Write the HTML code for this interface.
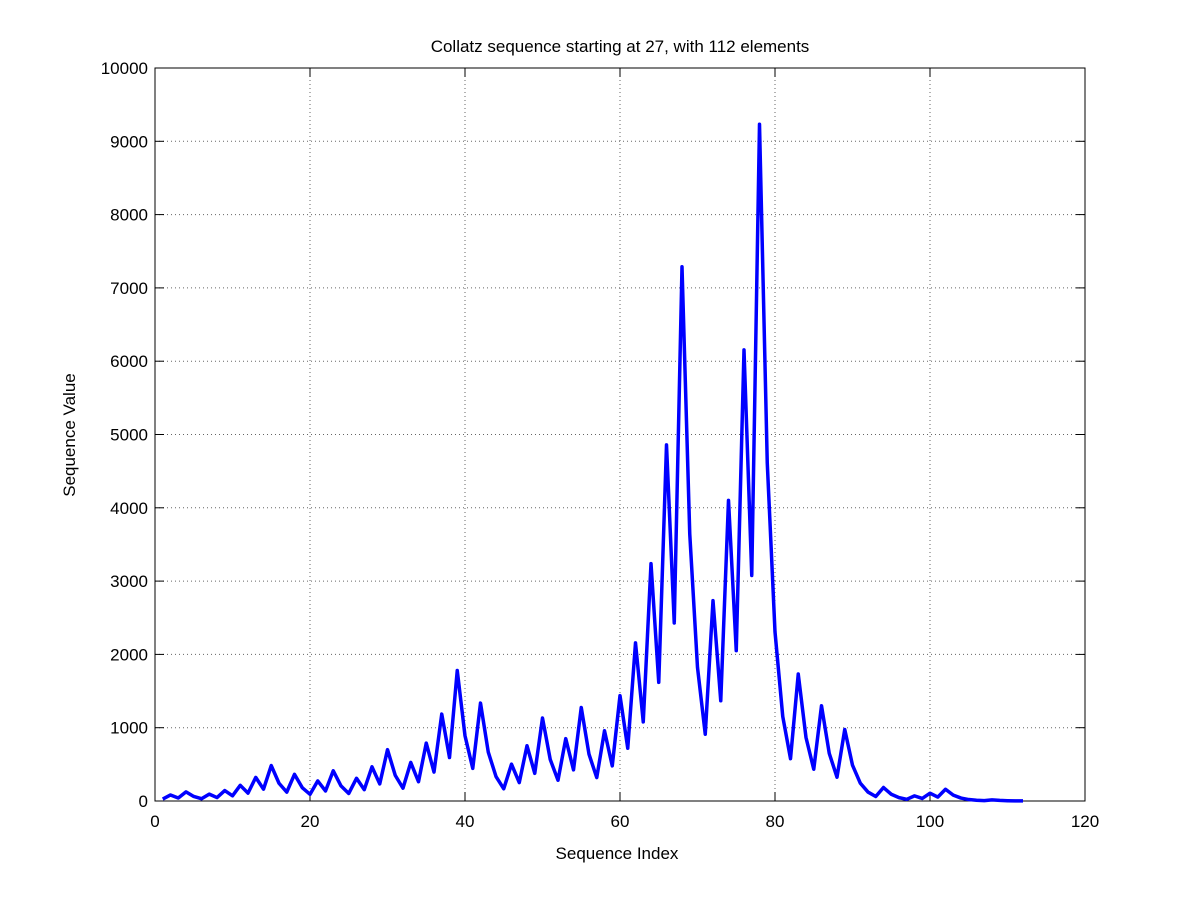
<!DOCTYPE html>
<html><head><meta charset="utf-8"><style>
body{margin:0;background:#fff;width:1200px;height:901px;overflow:hidden}
svg{font-family:"Liberation Sans",sans-serif}
</style></head><body>
<svg id="chart" width="1200" height="901" viewBox="0 0 1200 901"></svg>
<script>
const seqValues=[27,82,41,124,62,31,94,47,142,71,214,107,322,161,484,242,121,364,182,91,274,137,412,206,103,310,155,466,233,700,350,175,526,263,790,395,1186,593,1780,890,445,1336,668,334,167,502,251,754,377,1132,566,283,850,425,1276,638,319,958,479,1438,719,2158,1079,3238,1619,4858,2429,7288,3644,1822,911,2734,1367,4102,2051,6154,3077,9232,4616,2308,1154,577,1732,866,433,1300,650,325,976,488,244,122,61,184,92,46,23,70,35,106,53,160,80,40,20,10,5,16,8,4,2,1];
const xTicks=[0,20,40,60,80,100,120];
const yTicks=[0,1000,2000,3000,4000,5000,6000,7000,8000,9000,10000];
const X0=155,X1=1085,Y0=801,Y1=68;
const xs=v=>X0+(v-0)/120*(X1-X0);
const ys=v=>Y0-(v-0)/10000*(Y0-Y1);
const svg=document.getElementById('chart');
const NS='http://www.w3.org/2000/svg';
function mk(t,a,p){const e=document.createElementNS(NS,t);for(const k in a)e.setAttribute(k,a[k]);(p||svg).appendChild(e);return e;}
const bg=mk('rect',{x:X0,y:Y1,width:X1-X0,height:Y0-Y1,fill:'#fff'});


const grid=mk('g',{stroke:'#000','stroke-width':1,'stroke-dasharray':'1,3',opacity:0.6});


xTicks.slice(1,-1).forEach(v=>mk('line',{x1:xs(v),x2:xs(v),y1:Y0,y2:Y1},grid));
yTicks.slice(1,-1).forEach(v=>mk('line',{x1:X0,x2:X1,y1:ys(v),y2:ys(v)},grid));
const ax=mk('g',{stroke:'#000','stroke-width':1,fill:'none'});


mk('rect',{x:X0,y:Y1,width:X1-X0,height:Y0-Y1},ax);
xTicks.forEach(v=>{mk('line',{x1:xs(v),x2:xs(v),y1:Y0,y2:Y0-9},ax);mk('line',{x1:xs(v),x2:xs(v),y1:Y1,y2:Y1+9},ax);});
yTicks.forEach(v=>{mk('line',{x1:X0,x2:X0+9,y1:ys(v),y2:ys(v)},ax);mk('line',{x1:X1,x2:X1-9,y1:ys(v),y2:ys(v)},ax);});
xTicks.forEach(v=>{const t=mk('text',{x:xs(v),y:Y0+26,'text-anchor':'middle','font-size':17});t.textContent=v;

});
yTicks.forEach(v=>{const t=mk('text',{x:X0-7,y:ys(v)+6,'text-anchor':'end','font-size':17});t.textContent=v;

});
const line=mk('polyline',{points:seqValues.map((v,i)=>xs(i+1)+','+ys(v)).join(' '),fill:'none',stroke:'#0000ff','stroke-width':3.5,'stroke-linejoin':'round'});


const title=mk('text',{x:620,y:52,'text-anchor':'middle','font-size':17});title.textContent='Collatz sequence starting at 27, with 112 elements';


const xl=mk('text',{x:617,y:859,'text-anchor':'middle','font-size':17});xl.textContent='Sequence Index';


const yl=mk('text',{x:75,y:435,'text-anchor':'middle','font-size':17,transform:'rotate(-90 75 435)'});yl.textContent='Sequence Value';


</script>
</body></html>
